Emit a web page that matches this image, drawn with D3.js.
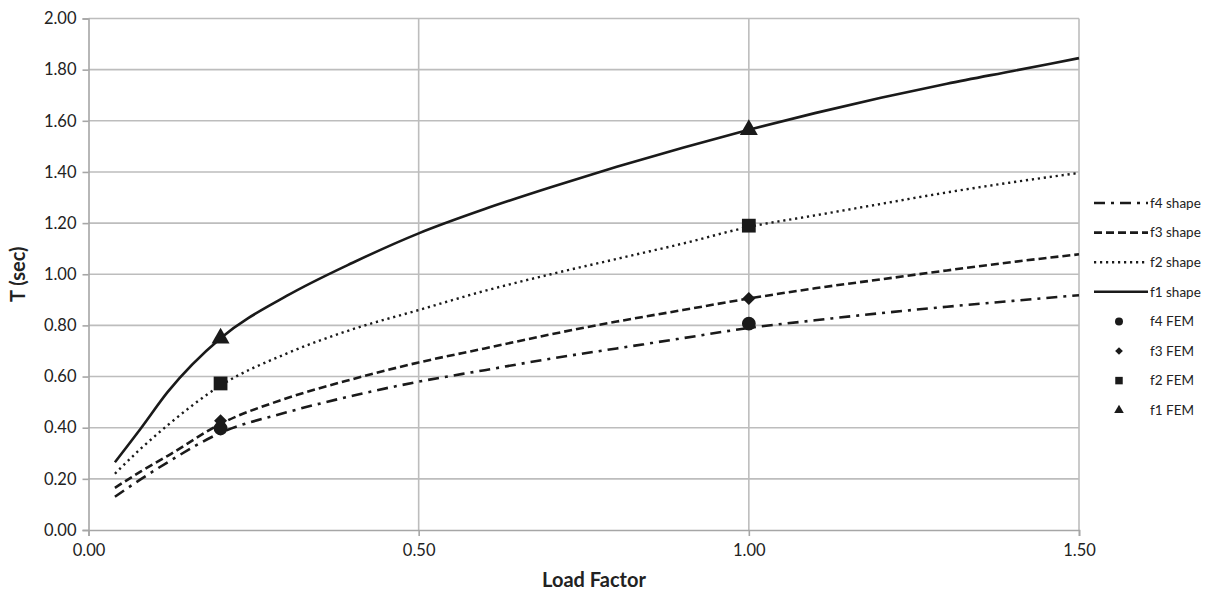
<!DOCTYPE html>
<html>
<head>
<meta charset="utf-8">
<script src="https://cdn.jsdelivr.net/npm/d3@7"></script>
<style>
  html, body { margin: 0; padding: 0; background: #fff; }
  svg { display: block; font-family: Lato, "Open Sans", sans-serif; }
</style>
</head>
<body>
<svg id="chart" width="1217" height="591"></svg>
<script>
// Load factor sampling used for the shape-function curves
const loadFactor = [0.04, 0.08, 0.12, 0.2, 0.3, 0.4, 0.5, 0.6, 0.7, 0.8, 0.9, 1.0, 1.1, 1.2, 1.3, 1.4, 1.5];

// Periods T (sec) from the shape-function approach
const f1Shape = [0.265, 0.40, 0.54, 0.75, 0.915, 1.045, 1.16, 1.255, 1.34, 1.42, 1.495, 1.565, 1.63, 1.69, 1.745, 1.795, 1.845];
const f2Shape = [0.22, 0.32, 0.41, 0.565, 0.69, 0.785, 0.86, 0.935, 1.0, 1.06, 1.12, 1.185, 1.23, 1.275, 1.32, 1.36, 1.396];
const f3Shape = [0.165, 0.23, 0.29, 0.415, 0.515, 0.59, 0.655, 0.71, 0.765, 0.815, 0.86, 0.905, 0.945, 0.98, 1.015, 1.048, 1.078];
const f4Shape = [0.13, 0.20, 0.265, 0.38, 0.46, 0.525, 0.58, 0.625, 0.67, 0.71, 0.75, 0.79, 0.82, 0.848, 0.873, 0.896, 0.918];

// Finite element results at two load factors
const femLoad = [0.2, 1.0];
const f1FEM = [0.75, 1.565];
const f2FEM = [0.573, 1.19];
const f3FEM = [0.427, 0.905];
const f4FEM = [0.397, 0.807];

// Axis ticks
const xTicks = [0, 0.5, 1.0, 1.5];
const yTicks = [0, 0.2, 0.4, 0.6, 0.8, 1.0, 1.2, 1.4, 1.6, 1.8, 2.0];

const svg = d3.select("#chart");
const margin = { left: 88.5, right: 1079, top: 18.5, bottom: 530 };

const x = d3.scaleLinear().domain([0, 1.5]).range([margin.left, margin.right]);
const y = d3.scaleLinear().domain([0, 2.0]).range([margin.bottom, margin.top]);

const gridColor = "#bdbdbd";
const axisColor = "#a6a6a6";
const ink = "#1a1a1a";

// Horizontal grid lines
svg.append("g").selectAll("line").data(yTicks.filter(d => d > 0)).join("line")
  .attr("x1", margin.left).attr("x2", margin.right)
  .attr("y1", d => y(d)).attr("y2", d => y(d))
  .attr("stroke", gridColor).attr("stroke-width", 1.6);

// Vertical grid lines
svg.append("g").selectAll("line").data(xTicks.filter(d => d > 0)).join("line")
  .attr("x1", d => x(d)).attr("x2", d => x(d))
  .attr("y1", margin.top).attr("y2", margin.bottom)
  .attr("stroke", gridColor).attr("stroke-width", 1.6);

// Axes
const yAxis = d3.axisLeft(y).tickValues(yTicks).tickFormat(d3.format(".2f")).tickSize(6).tickPadding(6);
const xAxis = d3.axisBottom(x).tickValues(xTicks).tickFormat(d3.format(".2f")).tickSize(6).tickPadding(8);

const gy = svg.append("g").attr("transform", `translate(${margin.left},0)`).call(yAxis);
const gx = svg.append("g").attr("transform", `translate(0,${margin.bottom})`).call(xAxis);
[gx, gy].forEach(g => {
  g.select(".domain").attr("stroke", axisColor).attr("stroke-width", 1.6);
  g.selectAll(".tick line").attr("stroke", axisColor).attr("stroke-width", 1.6);
  g.selectAll(".tick text").attr("fill", "#222").attr("font-size", 16.5)
    .attr("font-family", "Lato, 'Open Sans', sans-serif");
});

// Axis titles
svg.append("text")
  .attr("x", 594).attr("y", 587)
  .attr("text-anchor", "middle")
  .attr("font-size", 20).attr("font-weight", "bold").attr("fill", "#222")
  .text("Load Factor");

svg.append("text")
  .attr("transform", `translate(25,${y(1.0)}) rotate(-90)`)
  .attr("text-anchor", "middle")
  .attr("font-size", 20).attr("font-weight", "bold").attr("fill", "#222")
  .text("T (sec)");

// Shape-function curves
const shapeSeries = [
  { name: "f4 shape", values: f4Shape, dash: "11,6,3,6", width: 2.6 },
  { name: "f3 shape", values: f3Shape, dash: "8,4", width: 2.6 },
  { name: "f2 shape", values: f2Shape, dash: "2.2,3.8", width: 2.4 },
  { name: "f1 shape", values: f1Shape, dash: null, width: 2.6 }
];

const line = d3.line()
  .x(d => x(d[0])).y(d => y(d[1]))
  .curve(d3.curveMonotoneX);

svg.append("g").selectAll("path").data(shapeSeries).join("path")
  .attr("d", s => line(loadFactor.map((lf, i) => [lf, s.values[i]])))
  .attr("fill", "none")
  .attr("stroke", ink)
  .attr("stroke-width", s => s.width)
  .attr("stroke-dasharray", s => s.dash);

// FEM markers (the diamond is a square turned 45 degrees)
const femSeries = [
  { name: "f4 FEM", values: f4FEM, symbol: d3.symbolCircle, size: 150, legendSize: 50, rotate: 0 },
  { name: "f3 FEM", values: f3FEM, symbol: d3.symbolSquare, size: 85, legendSize: 30, rotate: 45 },
  { name: "f2 FEM", values: f2FEM, symbol: d3.symbolSquare, size: 190, legendSize: 56, rotate: 0 },
  { name: "f1 FEM", values: f1FEM, symbol: d3.symbolTriangle, size: 140, legendSize: 40, rotate: 0 }
];

femSeries.forEach(s => {
  svg.append("g").selectAll("path").data(femLoad.map((lf, i) => [lf, s.values[i]])).join("path")
    .attr("transform", d => `translate(${x(d[0])},${y(d[1])}) rotate(${s.rotate})`)
    .attr("d", d3.symbol().type(s.symbol).size(s.size))
    .attr("fill", ink);
});

// Legend
const legendX = 1094, legendLine = 54, legendTop = 203, legendStep = 29.6;
const legend = svg.append("g");
shapeSeries.forEach((s, i) => {
  const ly = legendTop + i * legendStep;
  legend.append("line")
    .attr("x1", legendX).attr("x2", legendX + legendLine)
    .attr("y1", ly).attr("y2", ly)
    .attr("stroke", ink).attr("stroke-width", s.width)
    .attr("stroke-dasharray", s.dash);
  legend.append("text")
    .attr("x", legendX + legendLine + 2).attr("y", ly)
    .attr("dy", "0.35em").attr("font-size", 13.5).attr("fill", "#222")
    .text(s.name);
});
femSeries.forEach((s, i) => {
  const ly = legendTop + (i + 4) * legendStep;
  legend.append("path")
    .attr("transform", `translate(${legendX + 25},${ly}) rotate(${s.rotate})`)
    .attr("d", d3.symbol().type(s.symbol).size(s.legendSize))
    .attr("fill", ink);
  legend.append("text")
    .attr("x", legendX + legendLine + 2).attr("y", ly)
    .attr("dy", "0.35em").attr("font-size", 13.5).attr("fill", "#222")
    .text(s.name);
});
</script>
</body>
</html>
